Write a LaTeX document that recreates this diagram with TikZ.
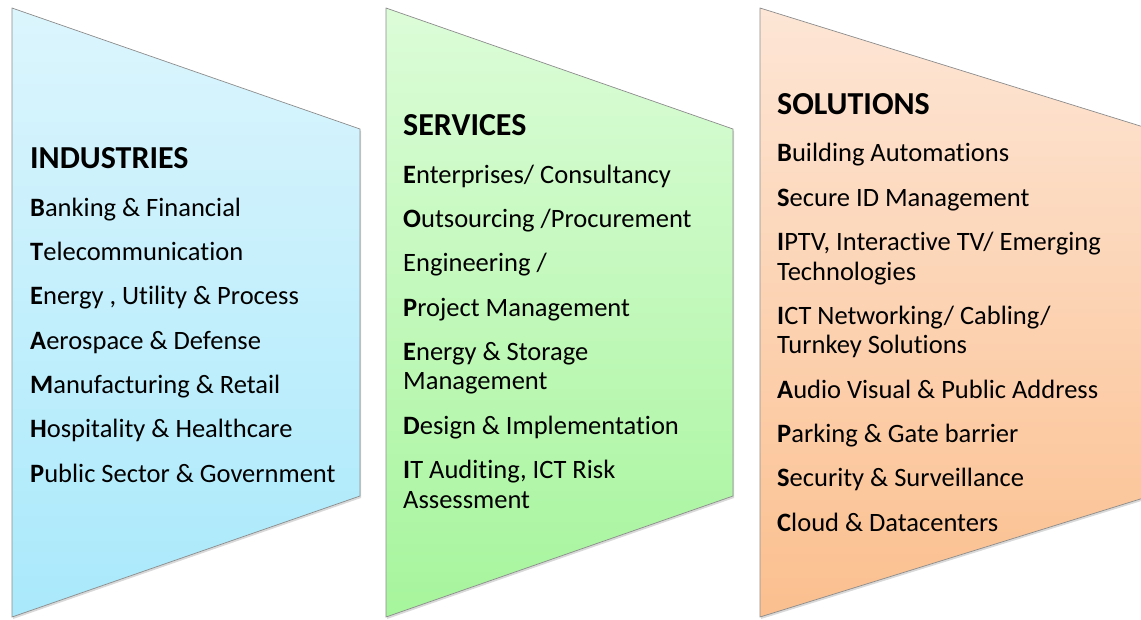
\documentclass[tikz,border=0pt]{standalone}
\usepackage{fontspec}
\setmainfont{Carlito}[Ligatures=NoCommon]
\usetikzlibrary{shadows}

\definecolor{indtop}{HTML}{DCF5FD}
\definecolor{indbot}{HTML}{A9E9FB}
\definecolor{srvtop}{HTML}{DCFCD8}
\definecolor{srvbot}{HTML}{A6F59C}
\definecolor{soltop}{HTML}{FDE6D6}
\definecolor{solbot}{HTML}{FBBF8E}

\tikzset{
    panel/.style={draw=black!45, line width=0.7pt,
        drop shadow={opacity=0.3, shadow xshift=1pt, shadow yshift=-2pt}},
    paneltext/.style={anchor=base west, align=left, inner sep=0pt,
        font=\fontsize{26.5}{29.5}\selectfont}
}
\newcommand{\hd}[1]{{\fontsize{32}{29.5}\selectfont\bfseries #1}}
\newcommand{\fl}[1]{\textbf{#1}}

\begin{document}
\begin{tikzpicture}[x=1pt,y=-1pt]
    \useasboundingbox (0,0) rectangle (1141,619);
    \clip (0,0) rectangle (1141,619);

    % Panels
    \foreach \x/\w/\p in {12/348/ind, 386/347/srv, 760/390/sol} {
        \shadedraw[panel, top color=\p top, bottom color=\p bot]
            (\x,8) -- (\x+\w,129) -- (\x+\w,496) -- (\x,617) -- cycle;
    }

    % Industries (anchored at the last line)
    \node[paneltext] (ind) at (30,482) {\hd{INDUSTRIES}\\[18pt]
        \fl{B}anking \& Financial\\[14.8pt]
        \fl{T}elecommunication\\[14.8pt]
        \fl{E}nergy , Utility \& Process\\[14.8pt]
        \fl{A}erospace \& Defense\\[14.8pt]
        \fl{M}anufacturing \& Retail\\[14.8pt]
        \fl{H}ospitality \& Healthcare\\[14.8pt]
        \fl{P}ublic Sector \& Government};

    % Services
    \node[paneltext] (srv) at (403,508) {\hd{SERVICES}\\[18pt]
        \fl{E}nterprises/ Consultancy\\[14.8pt]
        \fl{O}utsourcing /Procurement\\[14.8pt]
        Engineering /\\[14.8pt]
        \fl{P}roject Management\\[14.8pt]
        \fl{E}nergy \& Storage\\
        Management\\[14.8pt]
        \fl{D}esign \& Implementation\\[14.8pt]
        \fl{I}T Auditing, ICT Risk\\
        Assessment};

    % Solutions
    \node[paneltext] (sol) at (777,531) {\hd{SOLUTIONS}\\[18pt]
        \fl{B}uilding Automations\\[14.8pt]
        \fl{S}ecure ID Management\\[14.8pt]
        \fl{I}PTV, Interactive TV/ Emerging\\
        Technologies\\[14.8pt]
        \fl{I}CT Networking/ Cabling/\\
        Turnkey Solutions\\[14.8pt]
        \fl{A}udio Visual \& Public Address\\[14.8pt]
        \fl{P}arking \& Gate barrier\\[14.8pt]
        \fl{S}ecurity \& Surveillance\\[14.8pt]
        \fl{C}loud \& Datacenters};
\end{tikzpicture}
\end{document}
